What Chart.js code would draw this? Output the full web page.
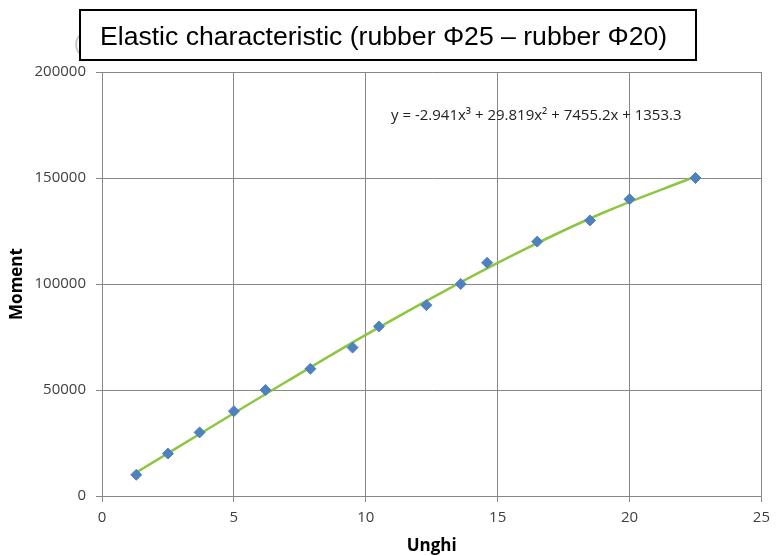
<!DOCTYPE html>
<html>
<head>
<meta charset="utf-8">
<script src="https://cdn.jsdelivr.net/npm/chart.js@4.4.1/dist/chart.umd.min.js"></script>
<style>
  html, body { margin: 0; padding: 0; background: #fff; }
  #wrap { width: 777px; height: 556px; position: relative; }
</style>
</head>
<body>
<div id="wrap"><canvas id="elasticChart" width="777" height="556"></canvas></div>
<script>
// --- data ---
const angles  = [1.3, 2.5, 3.7, 5.0, 6.2, 7.9, 9.5, 10.5, 12.3, 13.6, 14.6, 16.5, 18.5, 20.0, 22.5]; // Unghi
const moments = [10000, 20000, 30000, 40000, 50000, 60000, 70000, 80000, 90000, 100000, 110000, 120000, 130000, 140000, 150000];

// green trendline
const trendX = [1.3, 4, 7, 10, 13, 16, 19, 22.5];
const trendY = [11100, 31500, 54000, 76000, 96800, 116200, 133600, 150700];

const xTicks = [0, 5, 10, 15, 20, 25];
const yTicks = [0, 50000, 100000, 150000, 200000];

const chartTitle = 'Elastic characteristic (rubber \u03A625 \u2013 rubber \u03A620)';
const equation = 'y = -2.941x\u00B3 + 29.819x\u00B2 + 7455.2x + 1353.3';

const gridColor = '#878787';
const tickFont = { family: '"Open Sans", sans-serif', size: 15 };

// title box + equation label, drawn on top of the chart
const overlayPlugin = {
    id: 'overlay',
    afterDraw(chart) {
        const ctx = chart.ctx;
        ctx.save();
        // bit of the original title peeking out behind the box
        ctx.fillStyle = '#c4c4c4';
        ctx.font = '20px "Liberation Sans", Arial, sans-serif';
        ctx.textBaseline = 'alphabetic';
        ctx.fillText('(', 74, 50);

        ctx.fillStyle = '#fff';
        ctx.fillRect(79, 9, 618, 52);
        ctx.strokeStyle = '#000';
        ctx.lineWidth = 2;
        ctx.strokeRect(80, 10, 616, 50);

        ctx.fillStyle = '#000';
        ctx.font = '26.6px "Liberation Sans", Arial, sans-serif';
        ctx.fillText(chartTitle, 100, 45);

        ctx.fillStyle = '#222';
        ctx.font = '15px "Open Sans", sans-serif';
        ctx.fillText(equation, 391, 120);
        ctx.restore();
    }
};

const ctx = document.getElementById('elasticChart').getContext('2d');
new Chart(ctx, {
    type: 'scatter',
    data: {
        datasets: [{
            label: 'Trend',
            type: 'line',
            data: trendX.map((x, i) => ({ x: x, y: trendY[i] })),
            borderColor: '#8DC641',
            borderWidth: 2.5,
            pointRadius: 0,
            tension: 0.4,
            fill: false,
            order: 2
        }, {
            label: 'Moment',
            data: angles.map((x, i) => ({ x: x, y: moments[i] })),
            pointStyle: 'rectRot',
            pointRadius: 5.5,
            backgroundColor: '#4F81BD',
            borderColor: '#4F81BD',
            borderWidth: 1,
            order: 1
        }]
    },
    options: {
        responsive: false,
        animation: false,
        layout: { padding: { left: 0, top: 72, right: 9, bottom: 0 } },
        plugins: {
            legend: { display: false },
            tooltip: { enabled: false }
        },
        scales: {
            x: {
                type: 'linear',
                min: 0,
                max: 25,
                afterBuildTicks: (scale) => { scale.ticks = xTicks.map(v => ({ value: v })); },
                afterFit: (scale) => { scale.height = 60; },
                grid: { color: gridColor, tickLength: 6, tickColor: gridColor },
                border: { color: gridColor },
                ticks: { color: '#404040', font: tickFont, padding: 7 },
                title: {
                    display: true,
                    text: 'Unghi',
                    color: '#000',
                    font: { family: '"Open Sans", sans-serif', size: 17, weight: 'bold' },
                    padding: { top: 0, bottom: 0 }
                }
            },
            y: {
                min: 0,
                max: 200000,
                afterBuildTicks: (scale) => { scale.ticks = yTicks.map(v => ({ value: v })); },
                afterFit: (scale) => { scale.width = 102; },
                grid: { color: gridColor, tickLength: 6, tickColor: gridColor },
                border: { color: gridColor },
                ticks: { color: '#404040', font: tickFont, padding: 10, callback: (v) => String(v) },
                title: {
                    display: true,
                    text: 'Moment',
                    color: '#000',
                    font: { family: '"Open Sans", sans-serif', size: 17, weight: 'bold' },
                    padding: { top: 7, bottom: 0 }
                }
            }
        }
    },
    plugins: [overlayPlugin]
});
</script>
</body>
</html>
